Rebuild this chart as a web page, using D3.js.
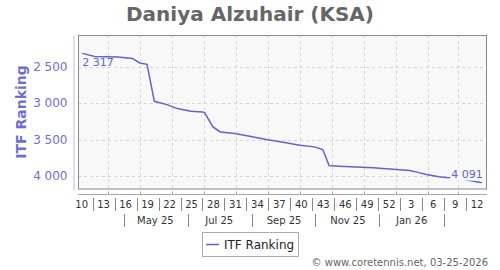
<!DOCTYPE html>
<html>
<head>
<meta charset="utf-8">
<script src="https://cdn.jsdelivr.net/npm/d3@7"></script>
<style>
  body { margin: 0; background: #fff; }
  text { font-family: "DejaVu Sans", sans-serif; }
</style>
</head>
<body>
<div class="chart"></div>
<script>
// ranking history (date, ITF rank)
const dates = ["2025-03-07","2025-03-19","2025-04-10","2025-04-24","2025-05-01","2025-05-08",
  "2025-05-15","2025-05-27","2025-06-06","2025-06-19","2025-06-30","2025-07-02","2025-07-10",
  "2025-07-17","2025-07-31","2025-08-14","2025-08-30","2025-09-15","2025-10-01","2025-10-15",
  "2025-10-23","2025-10-29","2025-11-08","2025-12-10","2026-01-14","2026-01-22","2026-01-30",
  "2026-02-11","2026-02-18","2026-02-26","2026-03-24"];
const ranks = [2317,2359,2367,2386,2449,2468,
  2975,3020,3075,3112,3120,3130,3326,
  3395,3418,3455,3500,3537,3578,3600,
  3637,3856,3865,3888,3925,3950,3979,
  4011,4021,4025,4091];

const yTicks = [2500, 3000, 3500, 4000];
const weekLabels = [10,13,16,19,22,25,28,31,34,37,40,43,46,49,52,3,6,9,12];
const weekYears  = [2025,2025,2025,2025,2025,2025,2025,2025,2025,2025,2025,2025,2025,2025,2025,2026,2026,2026,2026];
const monthLabels = ["May 25","Jul 25","Sep 25","Nov 25","Jan 26"];
const monthMids = ["2025-05-16","2025-07-16","2025-09-16","2025-11-16","2026-01-16"];
const monthSeps = ["2025-04-16","2025-06-16","2025-08-16","2025-10-16","2025-12-16","2026-02-16"];

const width = 500, height = 270;
const plotL = 78, plotR = 487, plotT = 35, plotB = 189.5;
const lineColor = "#6262d0";
const axisBlue = "#6e6ed2";
const plotBg = "#f8f8f8";

const parse = d3.timeParse("%Y-%m-%d");
const fmt = d3.formatLocale({decimal: ".", thousands: " ", grouping: [3], currency: ["", ""]}).format(",d");

function isoWeekStart(y, w) {
  const wk1 = d3.timeMonday.floor(new Date(y, 0, 4));
  return d3.timeDay.offset(wk1, (w - 1) * 7);
}

const data = dates.map((d, i) => ({date: parse(d), rank: ranks[i]}));

const xScale = d3.scaleTime()
  .domain([new Date(2025, 2, 3), new Date(2026, 2, 29)])
  .range([plotL, plotR]);

const yScale = d3.scaleLinear()
  .domain([2065, 4185])
  .range([plotT, plotB]);

const svg = d3.select(".chart")
  .append("svg")
  .attr("width", width)
  .attr("height", height);

// title
svg.append("text")
  .attr("x", 250).attr("y", 21)
  .attr("text-anchor", "middle")
  .style("font-size", "20px").style("font-weight", "bold")
  .attr("fill", "#666")
  .text("Daniya Alzuhair (KSA)");

// plot background
svg.append("rect")
  .attr("x", plotL).attr("y", plotT)
  .attr("width", plotR - plotL).attr("height", plotB - plotT)
  .attr("fill", plotBg);

// grid
svg.append("g")
  .selectAll("line")
  .data(xScale.ticks(d3.timeMonth.every(1)))
  .enter().append("line")
  .attr("x1", d => Math.round(xScale(d)) + 0.5).attr("x2", d => Math.round(xScale(d)) + 0.5)
  .attr("y1", plotT).attr("y2", plotB)
  .attr("stroke", "#d4d4d4").attr("stroke-dasharray", "3,3");

svg.append("g")
  .selectAll("line")
  .data(yTicks)
  .enter().append("line")
  .attr("x1", plotL).attr("x2", plotR)
  .attr("y1", d => Math.round(yScale(d)) + 0.5).attr("y2", d => Math.round(yScale(d)) + 0.5)
  .attr("stroke", "#d4d4d4").attr("stroke-dasharray", "3,3");

// line
svg.append("clipPath").attr("id", "clip")
  .append("rect").attr("x", plotL).attr("y", plotT)
  .attr("width", plotR - plotL).attr("height", plotB - plotT);

const line = d3.line()
  .x(d => xScale(d.date))
  .y(d => yScale(d.rank));

svg.append("path")
  .datum(data)
  .attr("clip-path", "url(#clip)")
  .attr("fill", "none")
  .attr("stroke", lineColor)
  .attr("stroke-width", 1.5)
  .attr("d", line);

// first / last value labels
const first = data[0], last = data[data.length - 1];
svg.append("text")
  .attr("x", xScale(first.date)).attr("y", yScale(first.rank) + 13)
  .style("font-size", "11px").attr("fill", lineColor)
  .text(fmt(first.rank));

const lastLabel = svg.append("g");
const lastRect = lastLabel.append("rect").attr("fill", plotBg);
const lastText = lastLabel.append("text")
  .attr("x", xScale(last.date) + 1).attr("y", yScale(last.rank) - 5)
  .attr("text-anchor", "end")
  .style("font-size", "11px").attr("fill", lineColor)
  .text(fmt(last.rank));
const bb = lastText.node().getBBox();
lastRect.attr("x", bb.x - 1).attr("y", bb.y).attr("width", bb.width + 2).attr("height", bb.height);

// plot border
svg.append("rect")
  .attr("x", plotL + 0.5).attr("y", plotT + 0.5)
  .attr("width", plotR - plotL - 1).attr("height", plotB - plotT - 1)
  .attr("fill", "none").attr("stroke", "#888");

// y axis
const yAxis = d3.axisLeft(yScale).tickValues(yTicks).tickSize(0).tickPadding(6)
  .tickFormat(fmt);
const gy = svg.append("g")
  .attr("transform", "translate(73.5,0)")
  .call(yAxis);
gy.select(".domain").attr("stroke", "#b8b8e6");
gy.selectAll("text").style("font-size", "12px").attr("fill", axisBlue)
  .style("font-family", "DejaVu Sans, sans-serif");

svg.append("text")
  .attr("transform", "translate(26,112) rotate(-90)")
  .attr("text-anchor", "middle")
  .style("font-size", "14px").style("font-weight", "bold")
  .attr("fill", axisBlue)
  .text("ITF Ranking");

// x axis (period axis: weeks + months)
const axisY = 194.5;
svg.append("line")
  .attr("x1", plotL).attr("x2", plotR)
  .attr("y1", axisY).attr("y2", axisY)
  .attr("stroke", "#aaa");
svg.append("g")
  .selectAll("line")
  .data(xScale.ticks(d3.timeMonth.every(1)))
  .enter().append("line")
  .attr("x1", d => Math.round(xScale(d)) + 0.5).attr("x2", d => Math.round(xScale(d)) + 0.5)
  .attr("y1", axisY - 3).attr("y2", axisY)
  .attr("stroke", "#aaa");

const weeks = weekLabels.map((w, i) => ({label: w, start: isoWeekStart(weekYears[i], w)}));

svg.append("g")
  .selectAll("text")
  .data(weeks)
  .enter().append("text")
  .attr("x", d => xScale(d3.timeHour.offset(d.start, 84)))
  .attr("y", 208)
  .attr("text-anchor", "middle")
  .style("font-size", "10px").attr("fill", "#333")
  .text(d => d.label);

svg.append("g")
  .selectAll("line")
  .data(weeks.map(d => d3.timeDay.offset(d.start, 14)).filter(d => xScale(d) < plotR))
  .enter().append("line")
  .attr("x1", d => Math.round(xScale(d)) + 0.5).attr("x2", d => Math.round(xScale(d)) + 0.5)
  .attr("y1", 198).attr("y2", 211)
  .attr("stroke", "#888");

svg.append("g")
  .selectAll("text")
  .data(monthLabels)
  .enter().append("text")
  .attr("x", (d, i) => xScale(parse(monthMids[i])))
  .attr("y", 224)
  .attr("text-anchor", "middle")
  .style("font-size", "10px").attr("fill", "#333")
  .text(d => d);

svg.append("g")
  .selectAll("line")
  .data(monthSeps.map(parse))
  .enter().append("line")
  .attr("x1", d => Math.round(xScale(d)) + 0.5).attr("x2", d => Math.round(xScale(d)) + 0.5)
  .attr("y1", 214).attr("y2", 227)
  .attr("stroke", "#888");

// legend
const lg = svg.append("g").attr("transform", "translate(202,232)");
lg.append("rect")
  .attr("x", 0.5).attr("y", 0.5).attr("width", 96).attr("height", 24)
  .attr("fill", "#fff").attr("stroke", "#aaa");
lg.append("line")
  .attr("x1", 4).attr("x2", 17).attr("y1", 12.5).attr("y2", 12.5)
  .attr("stroke", lineColor).attr("stroke-width", 1.5);
lg.append("text")
  .attr("x", 22).attr("y", 17)
  .style("font-size", "12px").attr("fill", "#222")
  .text("ITF Ranking");

// credit
svg.append("text")
  .attr("x", 488).attr("y", 266)
  .attr("text-anchor", "end")
  .style("font-size", "10px").attr("fill", "#666")
  .text("© www.coretennis.net, 03-25-2026");
</script>
</body>
</html>
